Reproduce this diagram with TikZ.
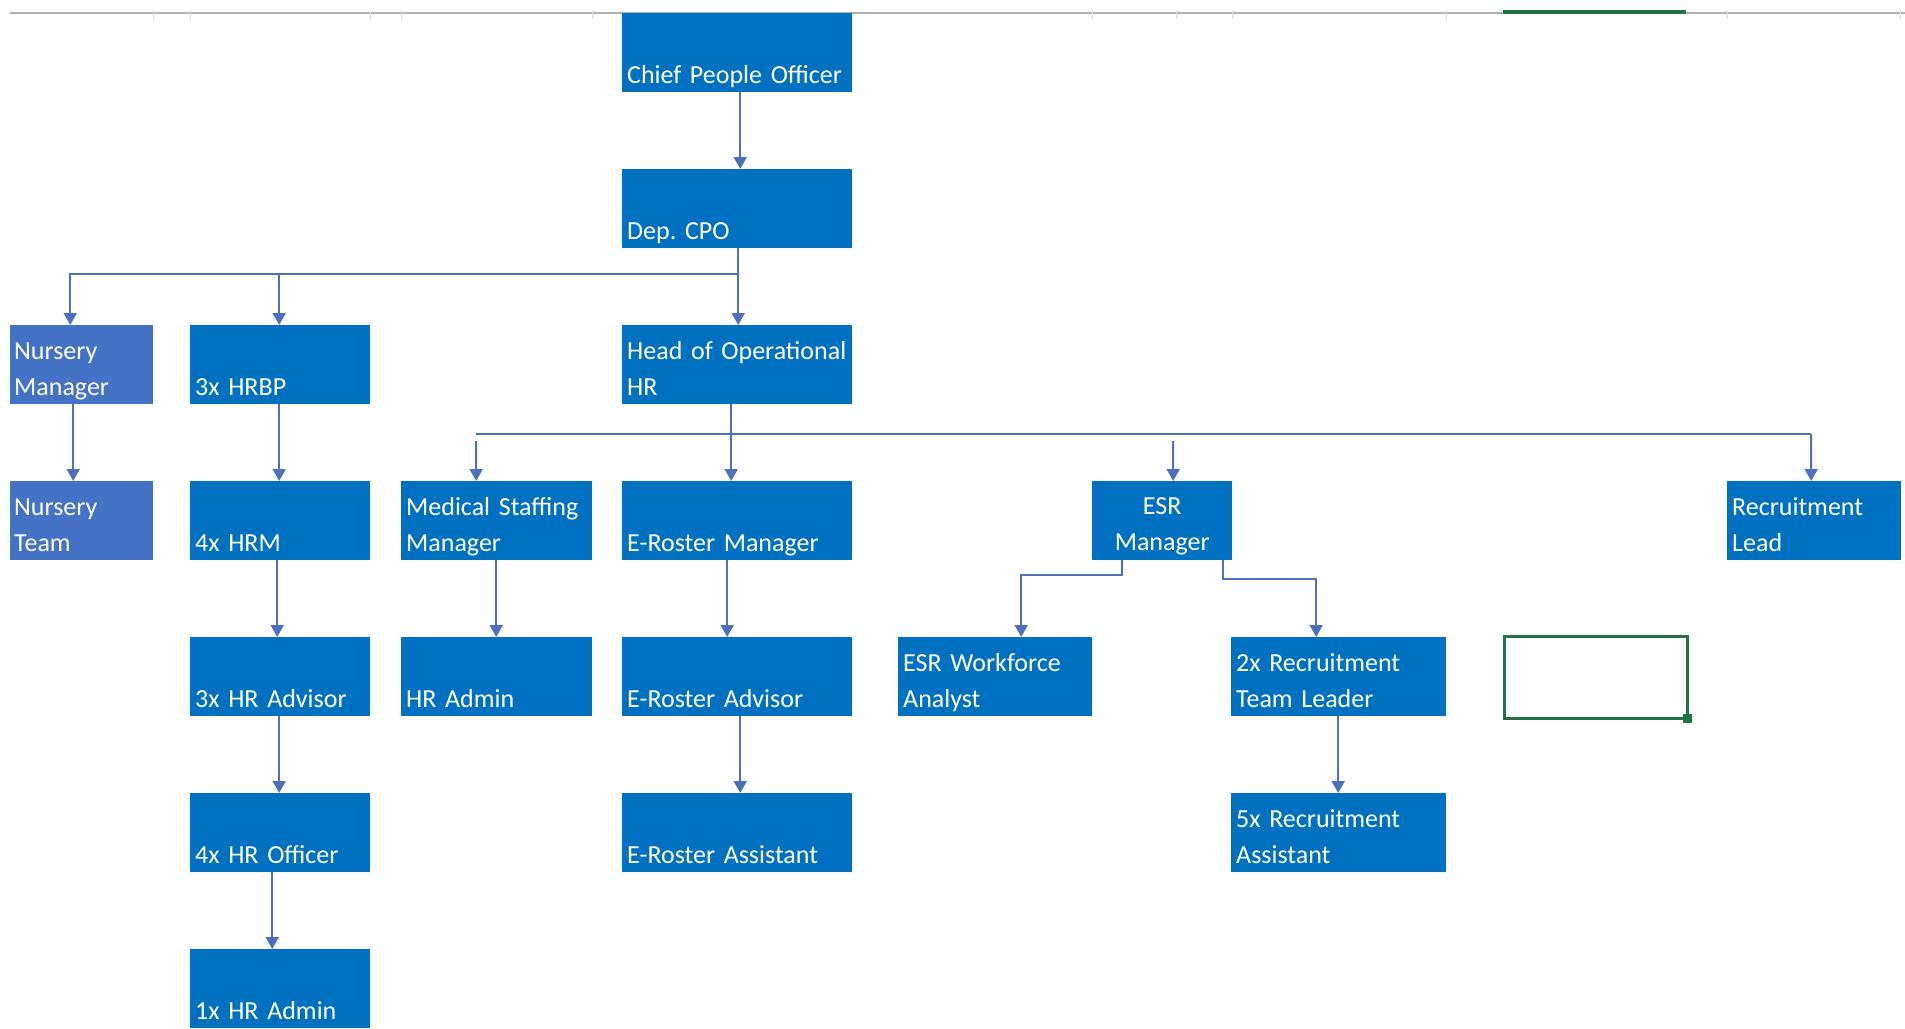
\documentclass[tikz,border=0pt]{standalone}
\usepackage{fontspec}
\setmainfont{Carlito}
\usetikzlibrary{arrows.meta}
\definecolor{boxC}{RGB}{0,112,192}
\definecolor{nurC}{RGB}{68,114,196}
\definecolor{connC}{RGB}{76,112,190}
\definecolor{xlgreen}{RGB}{33,115,70}
\definecolor{gridC}{RGB}{175,175,175}
\definecolor{tickC}{RGB}{215,215,215}
\frenchspacing
\begin{document}
\begin{tikzpicture}[x=1pt,y=-1pt,
  orgbox/.style={fill=boxC, draw=none, inner sep=0pt, anchor=north west, minimum height=79pt},
  nurbox/.style={orgbox, fill=nurC},
  lbl/.style={text=white, inner sep=0pt, font=\fontsize{26pt}{36pt}\selectfont, align=left, text width=230pt, anchor=base west},
  clbl/.style={lbl, align=center, text width=140pt, anchor=base},
  conn/.style={draw=connC, line width=2pt},
  arr/.style={-{Triangle[width=13pt,length=12pt]}},
  selcell/.style={draw=xlgreen, line width=3pt, inner sep=0pt, anchor=north west, minimum width=183pt, minimum height=82pt}]
\useasboundingbox (0,0) rectangle (1905,1028);
% spreadsheet header line
\draw[gridC, line width=1.5pt] (10,13) -- (1905,13);
\foreach \tx in {153,190,370,401,592,1092,1176,1232,1446,1727,1900}
  \draw[tickC, line width=1pt] (\tx,11) -- (\tx,19);
\draw[xlgreen, line width=4pt] (1503,12) -- (1686,12);

% boxes and labels
\node[orgbox, minimum width=230pt] (cpo) at (622,13) {};
\node[lbl] (cpoT) at ([shift={(5,-9)}]cpo.south west) {Chief People Officer};
\node[orgbox, minimum width=230pt] (dep) at (622,169) {};
\node[lbl] (depT) at ([shift={(5,-9)}]dep.south west) {Dep. CPO};

\node[nurbox, minimum width=143pt] (nm) at (10,325) {};
\node[lbl] (nmT) at ([shift={(4,-45)}]nm.south west) {Nursery\\Manager};
\node[orgbox, minimum width=180pt] (hrbp) at (190,325) {};
\node[lbl] (hrbpT) at ([shift={(5,-9)}]hrbp.south west) {3x HRBP};
\node[orgbox, minimum width=230pt] (hoh) at (622,325) {};
\node[lbl] (hohT) at ([shift={(5,-45)}]hoh.south west) {Head of Operational\\HR};

\node[nurbox, minimum width=143pt] (nt) at (10,481) {};
\node[lbl] (ntT) at ([shift={(4,-45)}]nt.south west) {Nursery\\Team};
\node[orgbox, minimum width=180pt] (hrm) at (190,481) {};
\node[lbl] (hrmT) at ([shift={(5,-9)}]hrm.south west) {4x HRM};
\node[orgbox, minimum width=191pt] (msm) at (401,481) {};
\node[lbl] (msmT) at ([shift={(5,-45)}]msm.south west) {Medical Staffing\\Manager};
\node[orgbox, minimum width=230pt] (erm) at (622,481) {};
\node[lbl] (ermT) at ([shift={(5,-9)}]erm.south west) {E-Roster Manager};
\node[orgbox, minimum width=140pt] (esrm) at (1092,481) {};
\node[clbl] (esrmT) at ([shift={(0,-46)}]esrm.south) {ESR\\Manager};
\node[orgbox, minimum width=174pt] (rl) at (1727,481) {};
\node[lbl] (rlT) at ([shift={(5,-45)}]rl.south west) {Recruitment\\Lead};

\node[orgbox, minimum width=180pt] (hra) at (190,637) {};
\node[lbl] (hraT) at ([shift={(5,-9)}]hra.south west) {3x HR Advisor};
\node[orgbox, minimum width=191pt] (hradm) at (401,637) {};
\node[lbl] (hradmT) at ([shift={(5,-9)}]hradm.south west) {HR Admin};
\node[orgbox, minimum width=230pt] (era) at (622,637) {};
\node[lbl] (eraT) at ([shift={(5,-9)}]era.south west) {E-Roster Advisor};
\node[orgbox, minimum width=194pt] (esrwa) at (898,637) {};
\node[lbl] (esrwaT) at ([shift={(5,-45)}]esrwa.south west) {ESR Workforce\\Analyst};
\node[orgbox, minimum width=215pt] (rtl) at (1231,637) {};
\node[lbl] (rtlT) at ([shift={(5,-45)}]rtl.south west) {2x Recruitment\\Team Leader};
\node[selcell] (sel) at (1503,635) {};
\fill[xlgreen] ([shift={(-6,-6)}]sel.south east) rectangle ([shift={(3,3)}]sel.south east);

\node[orgbox, minimum width=180pt] (hro) at (190,793) {};
\node[lbl] (hroT) at ([shift={(5,-9)}]hro.south west) {4x HR Officer};
\node[orgbox, minimum width=230pt] (eras) at (622,793) {};
\node[lbl] (erasT) at ([shift={(5,-9)}]eras.south west) {E-Roster Assistant};
\node[orgbox, minimum width=215pt] (ra) at (1231,793) {};
\node[lbl] (raT) at ([shift={(5,-45)}]ra.south west) {5x Recruitment\\Assistant};

\node[orgbox, minimum width=180pt] (hr1) at (190,949) {};
\node[lbl] (hr1T) at ([shift={(5,-9)}]hr1.south west) {1x HR Admin};

% connectors
\draw[conn, arr] ([xshift=3pt]cpo.south) -- ([xshift=3pt]dep.north);
\coordinate (j1) at (738,274);
\draw[conn, arr] ([xshift=1pt]dep.south) -- ([xshift=1pt]hoh.north);
\draw[conn, arr] (j1) -| ([xshift=-11.5pt]nm.north);
\draw[conn, arr] (j1) -| ([xshift=-1pt]hrbp.north);
\draw[conn, arr] ([xshift=-8.5pt]nm.south) -- ([xshift=-8.5pt]nt.north);
\draw[conn, arr] ([xshift=-1pt]hrbp.south) -- ([xshift=-1pt]hrm.north);
\draw[conn, arr] ([xshift=-3pt]hrm.south) -- ([xshift=-3pt]hra.north);
\draw[conn, arr] ([xshift=-1pt]hra.south) -- ([xshift=-1pt]hro.north);
\draw[conn, arr] ([xshift=-8pt]hro.south) -- ([xshift=-8pt]hr1.north);

\draw[conn, arr] ([xshift=-6pt]hoh.south) -- ([xshift=-6pt]erm.north);
\coordinate (h2L) at (476,434);
\coordinate (h2R) at (1811,434);
\coordinate (d2a) at (476,441);
\coordinate (d2b) at (1173,441);
\draw[conn] (h2L) -- (h2R);
\draw[conn, arr] (h2R) -- ([xshift=-3pt]rl.north);
\draw[conn, arr] (d2a) -- ([xshift=-20.5pt]msm.north);
\draw[conn, arr] (d2b) -- ([xshift=11pt]esrm.north);
\draw[conn, arr] ([xshift=-0.5pt]msm.south) -- ([xshift=-0.5pt]hradm.north);
\draw[conn, arr] ([xshift=-10pt]erm.south) -- ([xshift=-10pt]era.north);
\draw[conn, arr] ([xshift=3pt]era.south) -- ([xshift=3pt]eras.north);
\draw[conn, arr] ([xshift=-40pt]esrm.south) -- ++(0,15) -| ([xshift=26pt]esrwa.north);
\draw[conn, arr] ([xshift=61pt]esrm.south) -- ++(0,19) -| ([xshift=-22.5pt]rtl.north);
\draw[conn, arr] ([xshift=-0.5pt]rtl.south) -- ([xshift=-0.5pt]ra.north);
\end{tikzpicture}
\end{document}
